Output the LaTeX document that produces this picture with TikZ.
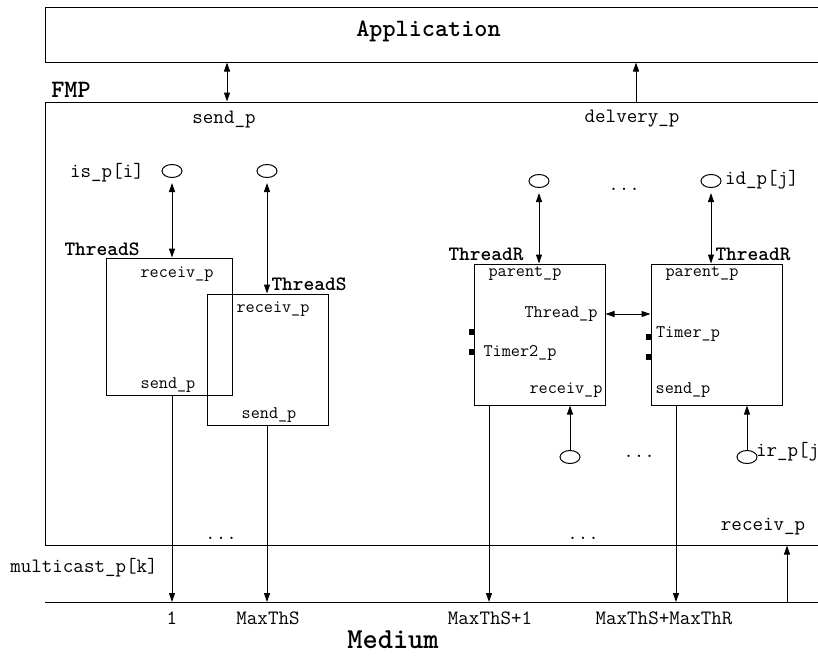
\documentclass[tikz,border=0pt]{standalone}
\usetikzlibrary{arrows.meta,shapes.geometric}
\tikzset{
  box/.style={draw,line width=1pt,inner sep=0pt},
  port/.style={draw,line width=1pt,ellipse,minimum width=20pt,minimum height=13pt,inner sep=0pt},
  sq/.style={fill=black,minimum width=5pt,minimum height=6pt,inner sep=0pt},
  arr/.style={line width=1pt,-{Triangle[length=9pt,width=6pt]}},
  dbl/.style={line width=1pt,{Triangle[length=9pt,width=6pt]}-{Triangle[length=9pt,width=6pt]}},
  tb/.style={inner sep=0pt,font=\ttfamily\fontsize{17.7}{20}\selectfont},
  tc/.style={inner sep=0pt,font=\ttfamily\fontsize{20.4}{23}\selectfont},
  ba/.style={inner sep=0pt,font=\ttfamily\bfseries\fontsize{25}{28}\selectfont},
  bc/.style={inner sep=0pt,font=\ttfamily\bfseries\fontsize{20.4}{23}\selectfont},
  bd/.style={inner sep=0pt,font=\ttfamily\bfseries\fontsize{29}{32}\selectfont},
}
\begin{document}
\begin{tikzpicture}[x=1pt,y=-1pt]
\useasboundingbox (0,0) rectangle (818,664);
\fill[white] (0,0) rectangle (818,664);
\clip (0,0) rectangle (818,664);
% big boxes
\node[box,minimum width=855pt,minimum height=55pt] (app) at (472.5,34.5) {};
\node[ba] (apptxt) at (428.5,31) {Application};
\node[box,minimum width=855pt,minimum height=443pt] (fmp) at (472.5,323.5) {};
\node[ba] (fmptxt) at (71,90) {FMP};
\node[tc] (sendp) at (224,120) {send\_p};
\node[tc] (delp) at (632,119) {delvery\_p};
\coordinate (xa) at (227,0);
\coordinate (xb) at (636,0);
\draw[dbl] (app.south -| xa) -- (fmp.north -| xa);
\draw[arr] (fmp.north -| xb) -- (app.south -| xb);
% medium
\coordinate (medL) at (45,602);
\coordinate (medR) at (830,602);
\draw[line width=1pt] (medL) -- (medR);
% ports
\node[port] (c1) at (172,171) {};
\node[port] (c2) at (267,171) {};
\node[port] (c3) at (539,181) {};
\node[port] (c4) at (711,181) {};
\node[port] (c5) at (570,457) {};
\node[port] (c6) at (747,457) {};
\node[tc] (isp) at (107,173) {is\_p[i]};
\node[tc,anchor=west] (idp) at (725,180) {id\_p[j]};
\node[tc,anchor=west] (irp) at (756,452) {ir\_p[j]};
% sender threads
\node[box,minimum width=126pt,minimum height=137pt] (b1) at (169,326.5) {};
\node[box,minimum width=121pt,minimum height=131pt] (b2) at (267.5,359.5) {};
\node[bc] (ts1) at (102,249) {ThreadS};
\node[bc] (ts2) at (309,284) {ThreadS};
\node[tb] (b1r) at (177,274) {receiv\_p};
\node[tb] (b1s) at (168,385) {send\_p};
\node[tb] (b2r) at (273,309) {receiv\_p};
\node[tb] (b2s) at (269,415) {send\_p};
% receiver threads
\node[box,minimum width=131pt,minimum height=141pt] (b3) at (539.5,334.5) {};
\node[box,minimum width=131pt,minimum height=141pt] (b4) at (716.5,334.5) {};
\node[bc] (tr1) at (486,254) {ThreadR};
\node[bc] (tr2) at (753,254) {ThreadR};
\node[tb] (b3p) at (525,274) {parent\_p};
\node[tb] (b3t) at (561,314) {Thread\_p};
\node[tb] (b3m) at (520,353) {Timer2\_p};
\node[tb] (b3r) at (566,390) {receiv\_p};
\node[tb] (b4p) at (702,274) {parent\_p};
\node[tb] (b4m) at (688,334) {Timer\_p};
\node[tb] (b4s) at (683,390) {send\_p};
\node[sq] (sq1) at (471.5,332) {};
\node[sq] (sq2) at (471.5,352) {};
\node[sq] (sq3) at (648.5,337) {};
\node[sq] (sq4) at (648.5,357) {};
% dots
\node[tc,anchor=base] (d1) at (624,190) {...};
\node[tc,anchor=base] (d2) at (639,457) {...};
\node[tc,anchor=base] (d3) at (221,539) {...};
\node[tc,anchor=base] (d4) at (583,539) {...};
% bottom labels
\node[tc] (rcv) at (763,527) {receiv\_p};
\node[tc] (mc) at (84,568) {multicast\_p[k]};
\node[tc] (n1) at (172,618) {1};
\node[tc] (n2) at (268,618) {MaxThS};
\node[tc] (n3) at (490,618) {MaxThS+1};
\node[tc] (n4) at (664,618) {MaxThS+MaxThR};
\node[bd] (med) at (393,640) {Medium};
% connectors
\draw[dbl,shorten <=5pt] (c1.south) -- (c1 |- b1.north);
\draw[dbl,shorten <=5pt] (c2.south) -- (c2 |- b2.north);
\draw[dbl,shorten <=5pt] (c3.south) -- (c3 |- b3.north);
\draw[dbl,shorten <=5pt] (c4.south) -- (c4 |- b4.north);
\draw[dbl] (b3.east |- b3t) -- (b4.west |- b3t);
\draw[arr] (b1.south -| c1) -- (c1 |- medL);
\draw[arr] (b2.south -| c2) -- (c2 |- medL);
\coordinate (x3) at (489,0);
\coordinate (x4) at (676,0);
\coordinate (x5) at (787,0);
\draw[arr] (b3.south -| x3) -- (x3 |- medL);
\draw[arr] (b4.south -| x4) -- (x4 |- medL);
\draw[arr] (c5.north) -- (c5 |- b3.south);
\draw[arr] (c6.north) -- (c6 |- b4.south);
\draw[arr] (x5 |- medL) -- (x5 |- fmp.south);
\end{tikzpicture}
\end{document}
